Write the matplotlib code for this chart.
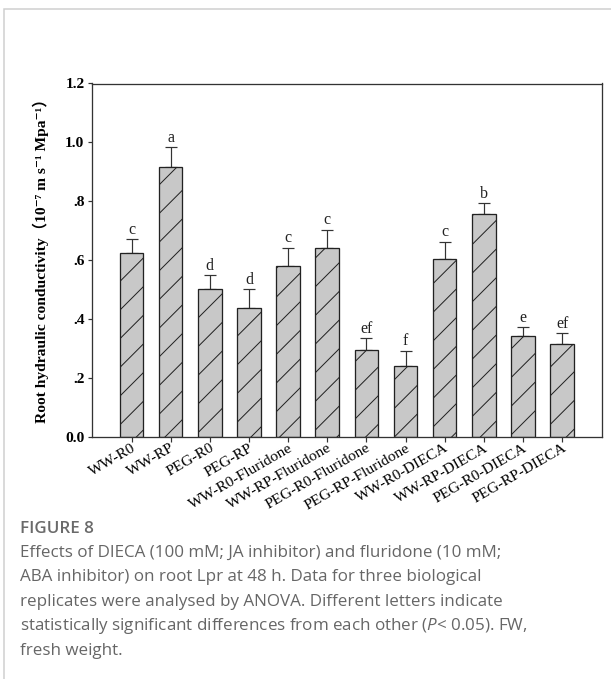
import numpy as np
import matplotlib
matplotlib.use("Agg")
import matplotlib.pyplot as plt
from matplotlib.patches import Rectangle

DPI = 86
W, H = 611, 679


def px(v):
    # pixel size -> points at the output dpi
    return v * 72 / DPI


groups = ["WW-R0", "WW-RP", "PEG-R0", "PEG-RP",
          "WW-R0-Fluridone", "WW-RP-Fluridone", "PEG-R0-Fluridone", "PEG-RP-Fluridone",
          "WW-R0-DIECA", "WW-RP-DIECA", "PEG-R0-DIECA", "PEG-RP-DIECA"]
lpr = [0.624, 0.917, 0.501, 0.439, 0.582, 0.643, 0.297, 0.242, 0.603, 0.757, 0.342, 0.316]
lpr_err = [0.048, 0.066, 0.048, 0.062, 0.061, 0.060, 0.038, 0.050, 0.059, 0.037, 0.031, 0.037]
letters = ["c", "a", "d", "d", "c", "c", "ef", "f", "c", "b", "e", "ef"]

yticks = [0.0, 0.2, 0.4, 0.6, 0.8, 1.0, 1.2]
ytick_labels = ["0.0", ".2", ".4", ".6", ".8", "1.0", "1.2"]
ylabel = "Root hydraulic conductivity\uff0810\u207b\u2077 m s\u207b\u00b9 Mpa\u207b\u00b9\uff09"

caption_title = "FIGURE 8"
caption_lines = [
    "Effects of DIECA (100 mM; JA inhibitor) and fluridone (10 mM;",
    "ABA inhibitor) on root Lpr at 48 h. Data for three biological",
    "replicates were analysed by ANOVA. Different letters indicate",
    "statistically significant differences from each other ($P$< 0.05). FW,",
    "fresh weight.",
]

plt.rcParams["mathtext.fontset"] = "custom"
plt.rcParams["mathtext.it"] = "Open Sans:italic"
plt.rcParams["mathtext.rm"] = "Open Sans"
plt.rcParams["hatch.linewidth"] = px(1.0)

serif = ["Liberation Serif", "DejaVu Serif", "Noto Sans CJK SC"]

fig = plt.figure(figsize=(W / DPI, H / DPI), dpi=DPI)

# light panel frame around the figure
fig.patches.append(Rectangle((4 / W, -0.05), 1.1, 1.05 - 9 / H,
                             transform=fig.transFigure, fill=False,
                             edgecolor="#cfcfcf", linewidth=px(1.5)))

ax_l, ax_r, ax_t, ax_b = 92, 602, 83.5, 437
ax = fig.add_axes([ax_l / W, 1 - ax_b / H, (ax_r - ax_l) / W, (ax_b - ax_t) / H])

x = np.arange(len(groups))
ax.bar(x, lpr, width=0.6, color="#c8c8c8", edgecolor="#222222",
       linewidth=px(1.3), hatch="/", zorder=2)
ax.errorbar(x, lpr, yerr=[np.zeros(len(lpr)), lpr_err], fmt="none",
            ecolor="#333333", elinewidth=px(1.2), capsize=px(6),
            capthick=px(1.2), zorder=1)

for xi, v, e, s in zip(x, lpr, lpr_err, letters):
    ax.annotate(s, (xi, v + e), xytext=(0, px(1.5)), textcoords="offset points",
                ha="center", va="bottom", family=serif, fontsize=px(16),
                color="#222222")

ax.set_xlim(-1.01, 12.02)
ax.set_ylim(0, 1.2)
ax.set_yticks(yticks)
ax.set_yticklabels(ytick_labels, family=serif, fontweight="bold", fontsize=px(15.5))
ax.set_xticks(x)
ax.set_xticklabels(groups, family=serif, fontsize=px(15.5), rotation=30,
                   ha="right", va="top", rotation_mode="anchor")
ax.tick_params(axis="both", direction="out", length=px(4.5), width=px(1.2),
               color="#333333")
ax.tick_params(axis="x", pad=px(0))
ax.tick_params(axis="y", pad=px(3))
for sp in ax.spines.values():
    sp.set_color("#333333")
    sp.set_linewidth(px(1.3))

ax.set_ylabel(ylabel, family=serif, fontweight="bold", fontsize=px(15.5))
ax.yaxis.set_label_coords(-(ax_l - 49.5) / (ax_r - ax_l), 0.51)

# caption block
fig.text(19.5 / W, 1 - 529 / H, caption_title, family="Open Sans",
         fontweight="semibold", fontsize=px(17), color="#6a6a6a", va="center")
for i, line in enumerate(caption_lines):
    fig.text(19.5 / W, 1 - (553 + 24.4 * i) / H, line, family="Open Sans",
             fontsize=px(17), color="#666666", va="center")

fig.savefig("out.png", dpi=DPI)
